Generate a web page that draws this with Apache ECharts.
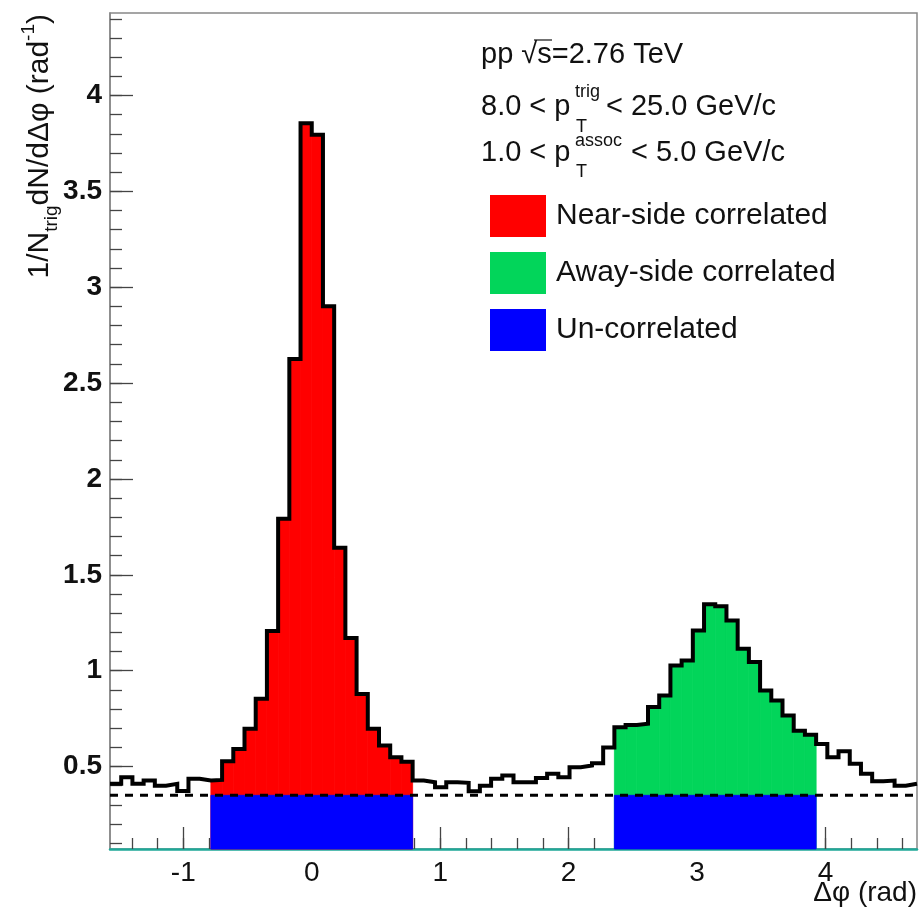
<!DOCTYPE html>
<html>
<head>
<meta charset="utf-8">
<title>Δφ correlation</title>
<script src="https://cdn.jsdelivr.net/npm/echarts@6/dist/echarts.min.js"></script>
<style>
	html,body{margin:0;padding:0;background:#fff;}
	#dataDiv1{width:920px;height:912px;}
</style>
</head>
<body>
<div id="dataDiv1"></div>
<script>
// histogram: 72 bins from -pi/2 to 3pi/2
var PHI_MIN = -Math.PI/2;
var PHI_MAX = 3*Math.PI/2;
var BIN_COUNT = 72;
var binValues = [
	0.41, 0.444, 0.41, 0.427, 0.40, 0.41, 0.373, 0.436, 0.427, 0.43,
	0.527, 0.592, 0.697, 0.853, 1.207, 1.793, 2.626, 3.855, 3.795, 2.90,
	1.641, 1.17, 0.879, 0.697, 0.61, 0.549, 0.525, 0.427, 0.418, 0.392,
	0.418, 0.415, 0.371, 0.40, 0.436, 0.453, 0.418, 0.418, 0.44, 0.462,
	0.444, 0.496, 0.505, 0.517, 0.60, 0.705, 0.717, 0.723, 0.81, 0.87,
	1.027, 1.053, 1.21, 1.347, 1.336, 1.262, 1.114, 1.045, 0.896, 0.844,
	0.766, 0.687, 0.666, 0.618, 0.549, 0.58, 0.514, 0.462, 0.423, 0.427,
	0.40, 0.41
];
var nearRange = [-Math.PI/4, Math.PI/4];
var awayRange = [3*Math.PI/4, 5*Math.PI/4];
var baseline = 0.35;
var Y_MIN = 0.07;
var Y_MAX = 4.43;
var xMajorTicks = [-1, 0, 1, 2, 3, 4];
var yMajorTicks = [0.5, 1, 1.5, 2, 2.5, 3, 3.5, 4];
var seriesNames = ['Near-side correlated', 'Away-side correlated', 'Un-correlated'];

var xMinorTicks = [];
for (var k = -7; k <= 23; k++) { xMinorTicks.push(Math.round(k*2)/10); }
var yMinorTicks = [];
for (var k = 1; k <= 44; k++) { yMinorTicks.push(k/10); }

var binWidth = (PHI_MAX-PHI_MIN)/BIN_COUNT;
var outline = [];
var nearFill = [];
var awayFill = [];
for (var i = 0; i < binValues.length; i++) {
	var x0 = PHI_MIN + i*binWidth;
	var x1 = x0 + binWidth;
	var c = (x0+x1)/2;
	outline.push([x0, binValues[i]]);
	if (c > nearRange[0] && c < nearRange[1]) nearFill.push([x0, x1, binValues[i]]);
	if (c > awayRange[0] && c < awayRange[1]) awayFill.push([x0, x1, binValues[i]]);
}
outline.push([PHI_MAX, binValues[binValues.length-1]]);
var uncorrFill = [
	[nearRange[0], nearRange[1], baseline],
	[awayRange[0], awayRange[1], baseline]
];

var FONT = "'Liberation Sans', Arial, Helvetica, sans-serif";

function renderBins(params, api) {
	var p0 = api.coord([api.value(0), api.value(2)]);
	var p1 = api.coord([api.value(1), Y_MIN]);
	var color = api.visual('color');
	return {
		type: 'rect',
		shape: { x: p0[0], y: p0[1], width: p1[0]-p0[0], height: p1[1]-p0[1] },
		style: { fill: color, stroke: color, lineWidth: 0.8 }
	};
}

function subText(x, y, text, size) {
	return {
		type: 'text', x: x, y: y,
		style: { text: text, fontSize: size, fontFamily: FONT, fill: '#111', align: 'left', verticalAlign: 'middle' }
	};
}

var myChart = echarts.init(document.getElementById('dataDiv1'));
var option = {
	animation: false,
	backgroundColor: '#fff',
	grid: {
		left: 110, right: 3, top: 13, bottom: 63,
		show: true, borderColor: '#888', borderWidth: 1.5, backgroundColor: 'transparent'
	},
	legend: {
		data: seriesNames,
		orient: 'vertical',
		left: 485, top: 190,
		icon: 'rect',
		itemWidth: 56, itemHeight: 42, itemGap: 15,
		selectedMode: false,
		textStyle: { fontSize: 30, color: '#111', fontFamily: FONT, padding: [0, 0, 0, 5] }
	},
	xAxis: [
		{
			type: 'value', min: PHI_MIN, max: PHI_MAX,
			axisLine: { show: true, onZero: false, lineStyle: { color: '#1fa898', width: 2.5 } },
			axisTick: { show: true, inside: true, length: 22, customValues: xMajorTicks, lineStyle: { color: '#444', width: 1.3 } },
			axisLabel: { customValues: xMajorTicks, fontSize: 28, color: '#111', fontFamily: FONT, margin: 10 },
			splitLine: { show: false }
		},
		{
			type: 'value', min: PHI_MIN, max: PHI_MAX, position: 'bottom',
			axisLine: { show: false, onZero: false },
			axisTick: { show: true, inside: true, length: 11, customValues: xMinorTicks, lineStyle: { color: '#444', width: 1.3 } },
			axisLabel: { show: false },
			splitLine: { show: false }
		}
	],
	yAxis: [
		{
			type: 'value', min: Y_MIN, max: Y_MAX, position: 'left',
			axisLine: { show: true, onZero: false, lineStyle: { color: '#888', width: 1.5 } },
			axisTick: { show: true, inside: true, length: 23, customValues: yMajorTicks, lineStyle: { color: '#444', width: 1.3 } },
			axisLabel: { customValues: yMajorTicks, fontSize: 28, fontWeight: 'bold', color: '#111', fontFamily: FONT, margin: 8 },
			splitLine: { show: false }
		},
		{
			type: 'value', min: Y_MIN, max: Y_MAX, position: 'left',
			axisLine: { show: false, onZero: false },
			axisTick: { show: true, inside: true, length: 12, customValues: yMinorTicks, lineStyle: { color: '#444', width: 1.3 } },
			axisLabel: { show: false },
			splitLine: { show: false }
		}
	],
	series: [
		{
			name: seriesNames[0], type: 'custom', renderItem: renderBins,
			itemStyle: { color: '#ff0000' },
			encode: { x: [0, 1], y: 2 }, data: nearFill, z: 1, silent: true
		},
		{
			name: seriesNames[1], type: 'custom', renderItem: renderBins,
			itemStyle: { color: '#02d55a' },
			encode: { x: [0, 1], y: 2 }, data: awayFill, z: 1, silent: true
		},
		{
			name: seriesNames[2], type: 'custom', renderItem: renderBins,
			itemStyle: { color: '#0000ff' },
			encode: { x: [0, 1], y: 2 }, data: uncorrFill, z: 2, silent: true
		},
		{
			name: 'baseline', type: 'line',
			data: [[PHI_MIN, baseline], [PHI_MAX, baseline]],
			symbol: 'none', silent: true, z: 3,
			lineStyle: { color: '#000', width: 3, type: [8, 7] }
		},
		{
			name: 'hist', type: 'line', step: 'end',
			data: outline, symbol: 'none', silent: true, z: 4,
			lineStyle: { color: '#000', width: 4, join: 'miter' }
		}
	],
	graphic: [
		{
			type: 'text', x: 40, y: 14, rotation: Math.PI/2,
			style: {
				text: '{m|1/N}{s|trig}{m|dN/dΔφ (rad}{p|-1}{m|)}',
				align: 'right', verticalAlign: 'middle', fill: '#111',
				rich: {
					m: { fontSize: 30, fontFamily: FONT, lineHeight: 42, verticalAlign: 'middle' },
					s: { fontSize: 19, fontFamily: FONT, lineHeight: 19, verticalAlign: 'bottom' },
					p: { fontSize: 19, fontFamily: FONT, lineHeight: 19, verticalAlign: 'top' }
				}
			}
		},
		{
			type: 'text', x: 917, y: 893,
			style: { text: 'Δφ (rad)', fontSize: 28, fontFamily: FONT, fill: '#111', align: 'right', verticalAlign: 'middle' }
		},
		subText(481, 55, 'pp √s=2.76 TeV', 29),
		{
			type: 'line', shape: { x1: 534, y1: 40, x2: 552, y2: 40 },
			style: { stroke: '#111', lineWidth: 1.2 }
		},
		subText(481, 107, '8.0 < p', 29),
		subText(575, 92, 'trig', 18),
		subText(576, 127, 'T', 18),
		subText(606, 107, '< 25.0 GeV/c', 29),
		subText(481, 153, '1.0 < p', 29),
		subText(575, 141, 'assoc', 18),
		subText(576, 172, 'T', 18),
		subText(631, 153, '< 5.0 GeV/c', 29)
	]
};
myChart.setOption(option);
window.addEventListener('resize', function () {
	myChart.resize();
});
</script>
</body>
</html>
